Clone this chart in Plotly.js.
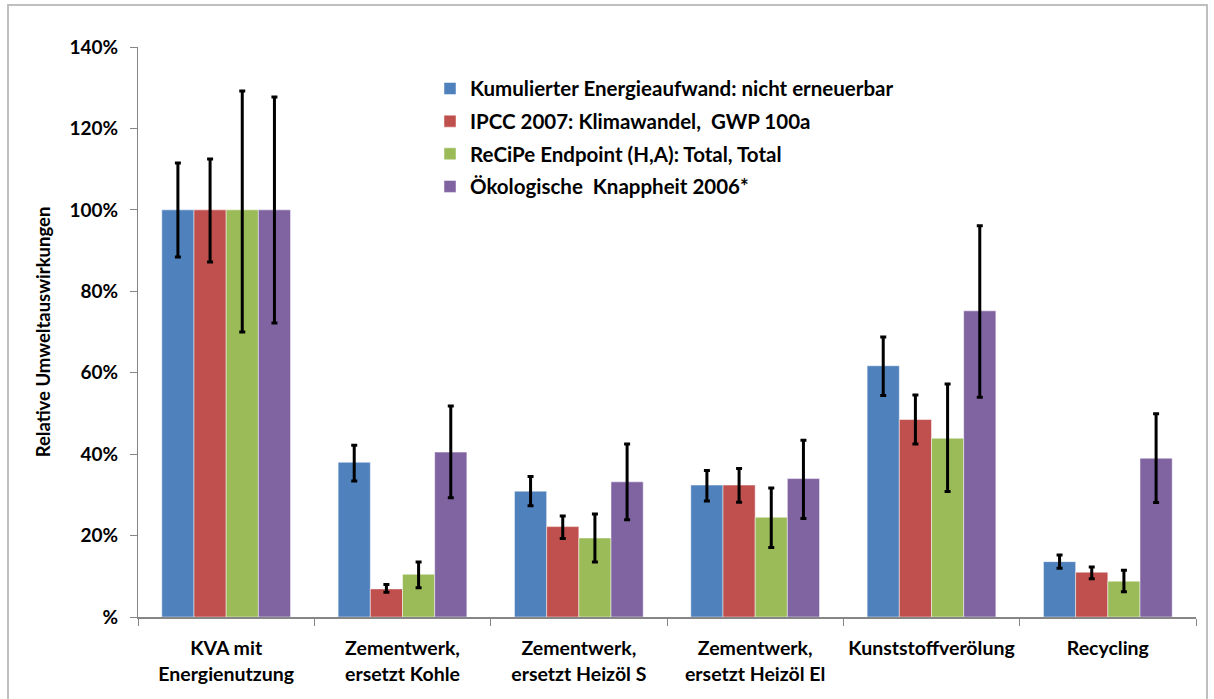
<!DOCTYPE html>
<html>
<head>
<meta charset="utf-8">
<script src="https://cdn.plot.ly/plotly-3.0.1.min.js"></script>
<style>
  html, body { margin: 0; padding: 0; background: #fff; overflow: hidden; }
  #chart { width: 1214px; height: 699px; position: absolute; left: 0; top: 0; }
  #frame { position: absolute; left: 7px; top: 4px; width: 1201px; height: 720px;
           border: 2px solid #BFBFBF; pointer-events: none; box-sizing: border-box; }
</style>
</head>
<body>
<div id="chart"></div>
<div id="frame"></div>
<script>
const categories = [
  "KVA mit<br>Energienutzung",
  "Zementwerk,<br>ersetzt Kohle",
  "Zementwerk,<br>ersetzt Heizöl S",
  "Zementwerk,<br>ersetzt Heizöl El",
  "Kunststoffverölung",
  "Recycling"
];
const seriesNames = [
  "Kumulierter Energieaufwand: nicht erneuerbar",
  "IPCC 2007: Klimawandel,  GWP 100a",
  "ReCiPe Endpoint (H,A): Total, Total",
  "Ökologische  Knappheit 2006*"
];
// values in %
const kea    = [100, 38.0, 30.9, 32.4, 61.7, 13.6];
const ipcc   = [100,  6.9, 22.2, 32.4, 48.5, 11.0];
const recipe = [100, 10.5, 19.4, 24.5, 43.9,  8.8];
const ubp    = [100, 40.5, 33.2, 34.0, 75.2, 39.0];
// error bar upper / lower bounds in %
const keaHigh    = [111.5, 42.2, 34.5, 36.0, 68.8, 15.2];
const keaLow     = [ 88.4, 33.4, 27.3, 28.5, 54.4, 12.0];
const ipccHigh   = [112.5,  8.0, 24.8, 36.5, 54.5, 12.3];
const ipccLow    = [ 87.2,  6.1, 19.3, 28.2, 42.5,  9.4];
const recipeHigh = [129.2, 13.5, 25.3, 31.7, 57.2, 11.5];
const recipeLow  = [ 70.0,  7.2, 13.5, 17.1, 30.8,  6.2];
const ubpHigh    = [127.7, 51.8, 42.5, 43.4, 96.1, 49.9];
const ubpLow     = [ 72.2, 29.3, 23.9, 24.2, 54.0, 28.1];

const yTickVals = [0, 20, 40, 60, 80, 100, 120, 140];
const yTickText = ["%", "20%", "40%", "60%", "80%", "100%", "120%", "140%"];

const colors = ["#4F81BD", "#C0504D", "#9BBB59", "#8064A2"];
const values = [kea, ipcc, recipe, ubp];
const highs = [keaHigh, ipccHigh, recipeHigh, ubpHigh];
const lows = [keaLow, ipccLow, recipeLow, ubpLow];

const traces = values.map((v, i) => ({
  type: "bar",
  name: seriesNames[i],
  legendgroup: "g" + i,
  x: categories,
  y: v,
  marker: { color: colors[i], line: { color: "rgba(255,255,255,0.6)", width: 0.8 } },
  error_y: {
    type: "data",
    symmetric: false,
    array: highs[i].map((h, k) => h - v[k]),
    arrayminus: lows[i].map((l, k) => v[k] - l),
    color: "#000000",
    thickness: 3,
    width: 3
  },
  hoverinfo: "skip"
}));

const font = "Lato, 'Open Sans', sans-serif";

const layout = {
  width: 1214,
  height: 699,
  margin: { l: 138, r: 18, t: 47, b: 82 },
  paper_bgcolor: "#ffffff",
  plot_bgcolor: "#ffffff",
  barmode: "group",
  bargap: 0.27,
  bargroupgap: 0,
  showlegend: true,
  legend: {
    x: 0.276, y: 0.962, xanchor: "left", yanchor: "top",
    bgcolor: "rgba(0,0,0,0)",
    font: { family: font, size: 20.5, color: "#000", weight: "bold" },
    tracegroupgap: 3,
    itemwidth: 30,
    traceorder: "grouped"
  },
  xaxis: {
    type: "category",
    showline: true, linecolor: "#868686", linewidth: 2,
    ticks: "outside", tickson: "boundaries", ticklen: 7, tickcolor: "#868686", tickwidth: 1,
    ticklabelstandoff: 13,
    tickfont: { family: font, size: 19.5, color: "#000", weight: "bold" },
    showgrid: false, zeroline: false, fixedrange: true
  },
  yaxis: {
    range: [0, 140],
    tickvals: yTickVals, ticktext: yTickText,
    showline: true, linecolor: "#868686", linewidth: 1,
    ticks: "outside", ticklen: 7, tickcolor: "#868686", tickwidth: 1,
    ticklabelstandoff: 8,
    tickfont: { family: font, size: 19, color: "#000", weight: "bold" },
    showgrid: false, zeroline: false, fixedrange: true,
    title: { text: "Relative Umweltauswirkungen", standoff: 14,
             font: { family: font, size: 18.5, color: "#000", weight: "bold" } }
  }
};

Plotly.newPlot("chart", traces, layout, { displayModeBar: false, staticPlot: true });
</script>
</body>
</html>
